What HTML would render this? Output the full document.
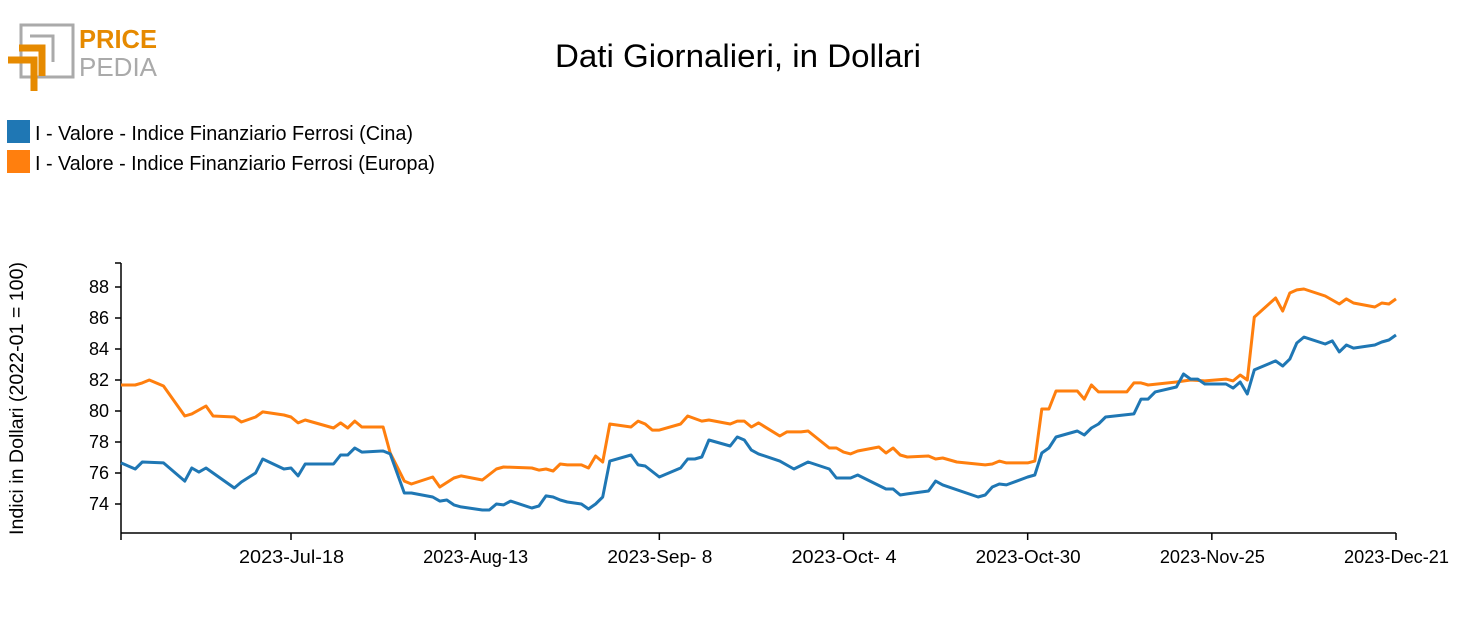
<!DOCTYPE html>
<html><head><meta charset="utf-8"><style>
body{margin:0;background:#fff;width:1477px;height:615px;overflow:hidden;font-family:"Liberation Sans",sans-serif}
svg text{font-family:"Liberation Sans",sans-serif}
</style></head><body>
<svg id="chart" width="1477" height="615" xmlns="http://www.w3.org/2000/svg">
<g>
<rect x="21" y="25" width="52" height="52" fill="none" stroke="#aaa" stroke-width="3"/>
<path d="M30 36 H53 V62" fill="none" stroke="#aaa" stroke-width="3"/>
<path d="M8 60 H34 V91" fill="none" stroke="#e68a00" stroke-width="7"/>
<path d="M19 48 H42 V76" fill="none" stroke="#e68a00" stroke-width="7"/>
<text x="79" y="48" font-size="26" font-weight="bold" fill="#e68a00" textLength="78" lengthAdjust="spacingAndGlyphs">PRICE</text>
<text x="79" y="76" font-size="26" fill="#aaa" textLength="78" lengthAdjust="spacingAndGlyphs">PEDIA</text>
</g>
<text x="555" y="67" font-size="32" fill="#000" textLength="366" lengthAdjust="spacingAndGlyphs">Dati Giornalieri, in Dollari</text>
<g>
<rect x="7" y="120" width="23" height="23" fill="#1f77b4"/>
<text x="35" y="140" font-size="20" textLength="378" lengthAdjust="spacingAndGlyphs">I - Valore - Indice Finanziario Ferrosi (Cina)</text>
<rect x="7" y="150" width="23" height="23" fill="#ff7f0e"/>
<text x="35" y="170" font-size="20" textLength="400" lengthAdjust="spacingAndGlyphs">I - Valore - Indice Finanziario Ferrosi (Europa)</text>
</g>
<text transform="translate(23,535) rotate(-90)" font-size="19" textLength="273" lengthAdjust="spacingAndGlyphs">Indici in Dollari (2022-01 = 100)</text>
<g id="axes"></g>
<g id="series"></g>
</svg>
<script>
const tickDays=[0,24,50,76,102,128,154,180];
const tickLabels=["","2023-Jul-18","2023-Aug-13","2023-Sep- 8","2023-Oct- 4","2023-Oct-30","2023-Nov-25","2023-Dec-21"];
const yTicks=[74,76,78,80,82,84,86,88];
const cinaDays=[0,2,3,6,9,10,11,12,16,17,19,20,23,24,25,26,30,31,32,33,34,37,38,40,41,44,45,46,47,48,51,52,53,54,55,58,59,60,61,62,63,65,66,67,68,69,72,73,74,76,79,80,81,82,83,86,87,88,89,90,93,95,97,100,101,103,104,106,108,109,110,111,114,115,116,121,122,123,124,125,128,129,130,131,132,135,136,137,138,139,143,144,145,146,149,150,151,152,153,156,157,158,159,160,163,164,165,166,167,170,171,172,173,174,177,178,179,180];
const cinaValues=[76.65,76.26,76.71,76.65,75.48,76.32,76.06,76.32,75.03,75.42,76.00,76.90,76.26,76.32,75.81,76.58,76.58,77.16,77.16,77.61,77.35,77.42,77.23,74.71,74.71,74.45,74.19,74.26,73.94,73.81,73.61,73.61,74.00,73.94,74.19,73.74,73.87,74.52,74.45,74.26,74.13,74.00,73.68,74.00,74.45,76.77,77.16,76.52,76.45,75.74,76.32,76.90,76.90,77.03,78.13,77.74,78.32,78.13,77.48,77.23,76.77,76.26,76.71,76.26,75.68,75.68,75.87,75.42,74.97,74.97,74.58,74.65,74.84,75.48,75.23,74.45,74.58,75.10,75.29,75.23,75.74,75.87,77.29,77.61,78.32,78.71,78.45,78.90,79.16,79.61,79.81,80.77,80.77,81.23,81.55,82.39,82.06,82.06,81.74,81.74,81.48,81.87,81.10,82.65,83.23,82.90,83.35,84.39,84.77,84.32,84.52,83.81,84.26,84.06,84.26,84.45,84.58,84.90];
const europaDays=[0,2,3,4,6,9,10,12,13,16,17,19,20,23,24,25,26,30,31,32,33,34,37,38,39,40,41,44,45,47,48,51,53,54,58,59,60,61,62,63,65,66,67,68,69,72,73,74,75,76,79,80,82,83,86,87,88,89,90,93,94,96,97,100,101,102,103,104,107,108,109,110,111,114,115,116,118,122,123,124,125,128,129,130,131,132,135,136,137,138,142,143,144,145,149,151,153,156,157,158,159,160,163,164,165,166,167,170,172,173,174,177,178,179,180];
const europaValues=[81.68,81.68,81.81,82.00,81.61,79.68,79.81,80.32,79.68,79.61,79.29,79.61,79.94,79.74,79.61,79.23,79.42,78.90,79.23,78.90,79.35,78.97,78.97,77.29,76.39,75.48,75.29,75.74,75.10,75.68,75.81,75.55,76.26,76.39,76.32,76.19,76.26,76.13,76.58,76.52,76.52,76.32,77.10,76.71,79.16,78.97,79.35,79.16,78.77,78.77,79.16,79.68,79.35,79.42,79.16,79.35,79.35,78.97,79.23,78.39,78.65,78.65,78.71,77.61,77.61,77.35,77.23,77.42,77.68,77.29,77.61,77.16,77.03,77.10,76.90,76.97,76.71,76.52,76.58,76.77,76.65,76.65,76.77,80.13,80.13,81.29,81.29,80.77,81.68,81.23,81.23,81.81,81.81,81.68,81.87,82.00,81.94,82.06,81.94,82.32,82.00,86.06,87.29,86.45,87.61,87.81,87.87,87.42,86.90,87.23,86.97,86.71,86.97,86.90,87.23];
const NS='http://www.w3.org/2000/svg';
const X0=121,X1=1396,Y88=287,PXU=15.5;
function xS(d){return X0+(X1-X0)*d/180;}
function yS(v){return Y88+(88-v)*PXU;}
function mk(t,a,p){const e=document.createElementNS(NS,t);for(const k in a)e.setAttribute(k,a[k]);p.appendChild(e);return e;}
const axes=document.getElementById('axes');
const ya=mk('line',{x1:X0,y1:263,x2:X0,y2:533,stroke:'#000','stroke-width':1.5},axes);


const xa=mk('line',{x1:X0,y1:533,x2:X1,y2:533,stroke:'#000','stroke-width':1.5},axes);


mk('line',{x1:X0-6,y1:263,x2:X0,y2:263,stroke:'#000','stroke-width':1.5},axes);
yTicks.forEach(v=>{
 const y=yS(v);
 mk('line',{x1:X0-6,y1:y,x2:X0,y2:y,stroke:'#000','stroke-width':1.5},axes);
 const t=mk('text',{x:X0-12,y:y+6,'font-size':18,'text-anchor':'end'},axes);
 
 
 t.textContent=v;
});
tickDays.forEach((d,i)=>{
 const x=xS(d);
 mk('line',{x1:x,y1:533,x2:x,y2:540,stroke:'#000','stroke-width':1.5},axes);
 if(!tickLabels[i])return;
 const t=mk('text',{x:x-52,y:563,'font-size':18,textLength:105,lengthAdjust:'spacingAndGlyphs'},axes);
 
 
 t.textContent=tickLabels[i];
});
const sg=document.getElementById('series');
function line(days,vals,color,name){
 const pts=days.map((d,i)=>xS(d).toFixed(1)+','+yS(vals[i]).toFixed(1)).join(' ');
 const p=mk('polyline',{points:pts,fill:'none',stroke:color,'stroke-width':3,'stroke-linejoin':'round'},sg);
 
 
}
line(europaDays,europaValues,'#ff7f0e','series-europa-line');
line(cinaDays,cinaValues,'#1f77b4','series-cina-line');
</script>
</body></html>
